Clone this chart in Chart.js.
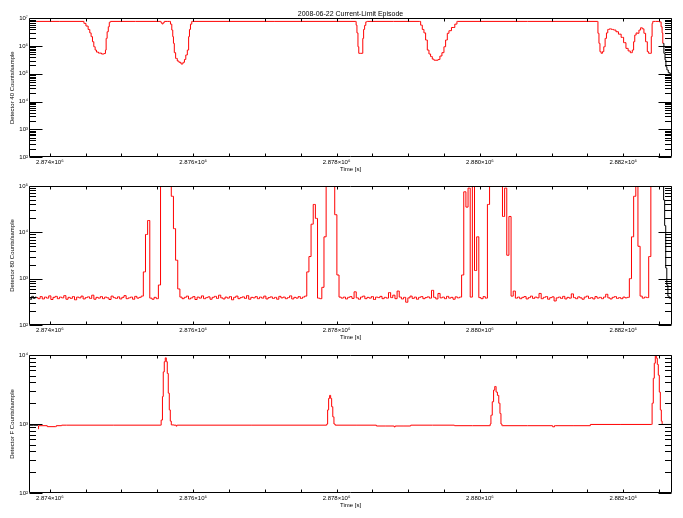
<!DOCTYPE html>
<html>
<head>
<meta charset="utf-8">
<title>2008-06-22 Current-Limit Episode</title>
<script src="https://cdn.jsdelivr.net/npm/chart.js@4.4.1/dist/chart.umd.min.js"></script>
<style>
  body { margin: 0; background: #fff; }
  #wrap { position: relative; width: 683px; height: 518px; }
  #wrap canvas { position: absolute; left: 0; }
</style>
</head>
<body>
<div id="wrap">
  <canvas id="det40" width="683" height="175" style="top:0px"></canvas>
  <canvas id="det80" width="683" height="168" style="top:175px"></canvas>
  <canvas id="detF" width="683" height="168" style="top:343px"></canvas>
</div>
<script>
// time axis (s)
const timeMin = 2873710, timeMax = 2882680;
const timeTicks = [2874000, 2874500, 2875000, 2875500, 2876000, 2876500, 2877000, 2877500, 2878000,
                   2878500, 2879000, 2879500, 2880000, 2880500, 2881000, 2881500, 2882000, 2882500];
const minorSteps = [1, 2, 3, 4, 5, 6, 7, 8, 9];

// Detector 40
const det40Decades = [2, 3, 4, 5, 6, 7];
const det40Time = [
  2873815, 2874465,
  2874488, 2874521, 2874549, 2874567, 2874586, 2874605, 2874623, 2874642, 2874660, 2874698, 2874744, 2874772, 2874781, 2874791, 2874809, 2874823, 2874837, 2874851,
  2875545, 2875558, 2875572, 2875590, 2875604,
  2875674, 2875693, 2875711, 2875720, 2875730, 2875744, 2875767, 2875790, 2875814, 2875846, 2875869, 2875888, 2875907, 2875930, 2875944, 2875953, 2875972, 2875990,
  2878269, 2878278, 2878292, 2878306, 2878315, 2878362, 2878371, 2878385, 2878399, 2878418, 2878432,
  2879162, 2879185, 2879208, 2879231, 2879255, 2879278, 2879301, 2879324, 2879348, 2879371, 2879403, 2879431, 2879454, 2879487, 2879510, 2879534, 2879557, 2879580, 2879627, 2879673, 2879687,
  2881640, 2881654, 2881668, 2881682, 2881700, 2881719, 2881738, 2881756, 2881775, 2881793, 2881821, 2881849, 2881882, 2881914, 2881952, 2881989, 2882021, 2882054, 2882082, 2882114, 2882138,
  2882151, 2882170, 2882189, 2882207, 2882231, 2882254, 2882277, 2882300, 2882324, 2882347, 2882361, 2882384, 2882398, 2882407, 2882417, 2882486, 2882519, 2882537, 2882547, 2882556
];
const det40Counts = [
  7.8e6, 7.8e6,
  6.6e6, 5.3e6, 4.0e6, 3.0e6, 2.2e6, 1.44e6, 9.5e5, 7.2e5, 6.1e5, 5.6e5, 5.2e5, 5.4e5, 7.2e5, 1.9e6, 3.3e6, 5.0e6, 7.2e6, 7.8e6,
  7.8e6, 7.0e6, 6.3e6, 7.0e6, 7.8e6,
  7.8e6, 6.2e6, 3.8e6, 2.2e6, 1.26e6, 5.8e5, 3.6e5, 2.9e5, 2.6e5, 2.27e5, 2.6e5, 3.3e5, 4.8e5, 7.2e5, 2.2e6, 4.0e6, 6.2e6, 7.8e6,
  7.8e6, 5.7e6, 3.0e6, 9.5e5, 5.5e5, 5.5e5, 1.9e6, 4.0e6, 5.6e6, 7.5e6, 7.8e6,
  7.8e6, 5.7e6, 4.0e6, 3.0e6, 1.66e6, 7.2e5, 5.2e5, 4.2e5, 3.4e5, 3.1e5, 3.1e5, 3.3e5, 4.4e5, 5.8e5, 9.5e5, 1.66e6, 2.9e6, 3.6e6, 4.7e6, 6.2e6, 7.8e6,
  7.8e6, 2.9e6, 1.26e6, 6.3e5, 5.5e5, 6.3e5, 9.5e5, 1.9e6, 3.0e6, 4.0e6, 4.2e6, 4.0e6, 3.8e6, 3.3e6, 2.7e6, 2.07e6, 1.33e6, 8.3e5, 6.7e5, 5.8e5, 7.2e5,
  1.44e6, 2.5e6, 3.0e6, 2.9e6, 3.8e6, 4.6e6, 4.2e6, 2.9e6, 1.44e6, 6.3e5, 5.5e5, 5.5e5, 2.2e6, 6.6e6, 7.8e6, 7.8e6, 7.5e6, 5.0e6, 3.0e6, 1.26e6
];
const det40LeadTime = [2873710, 2873815];
const det40LeadCounts = [7.8e6, 7.8e6];
const det40TailTime = [2882556, 2882578, 2882588, 2882602, 2882616, 2882640, 2882663, 2882680];
const det40TailCounts = [1.26e6, 5.5e5, 3.2e5, 1.8e5, 1.38e5, 1.1e5, 1.0e5, 1.0e5];

// Detector 80, one sample every 30 s
const det80Decades = [2, 3, 4, 5];
const det80Start = 2873820, det80Step = 30;
const det80Counts = [
  390, 370, 410, 365, 400, 380, 425, 355, 395, 415,
  370, 400, 385, 430, 360, 395, 375, 410, 350, 400,
  385, 420, 365, 390, 405, 375, 440, 360, 395, 380,
  410, 370, 400, 385, 355, 420, 390, 375, 405, 365,
  395, 430, 370, 385, 400, 360, 415, 380, 395,
  420, 1400, 9000, 18000, 380, 360, 395, 370, 730, 2e5, 2e5, 2e5, 2e5, 2e5, 60000, 12000, 2500, 600,
  400, 370, 395, 420, 365, 385, 410, 355, 400, 380,
  425, 370, 390, 405, 360, 395, 415, 375, 440, 385,
  365, 400, 380, 410, 350, 395, 420, 370, 390, 405,
  375, 430, 360, 395, 385, 410, 370, 400, 380, 420,
  365, 390, 405, 375, 395, 360, 415, 385, 400, 370,
  390, 425, 365, 395, 380, 410, 375, 400,
  420, 1400, 3000, 15000, 40000, 20000, 380, 370, 650, 8000, 2e5, 2e5, 2e5, 2e5, 24000, 1200, 400,
  380, 400, 365, 395, 410, 375, 520, 385, 360, 400,
  420, 370, 395, 380, 410, 355, 400, 390, 415, 370,
  395, 380, 500, 390, 440, 370, 540, 400, 365, 395,
  310, 385, 420, 375, 400, 360, 395, 410, 370, 390,
  405, 380, 560, 395, 365, 480, 385, 400, 370, 415,
  380, 395, 360, 405, 385, 400,
  1200, 75000, 35000, 90000, 400, 2e5, 1500, 8000, 390, 370, 410, 380,
  40000, 2e5, 2e5, 2e5, 2e5, 2e5, 2e5, 22000, 90000, 3200, 22000, 420,
  540, 380, 400, 370, 395, 410, 365, 390, 420, 375,
  400, 385, 480, 370, 395, 410, 360, 390, 405, 330,
  385, 400, 375, 415, 365, 395, 380, 470, 390, 370,
  405, 385, 360, 400, 420, 375, 390, 365, 410, 380,
  395, 370, 400, 460, 385, 365, 395, 410, 375, 390,
  370, 400, 385, 395,
  1000, 8000, 60000, 2e5, 5000, 420, 380, 400, 390, 3000, 2e5
];
const det80Time = det80Counts.map((c, i) => det80Start + i * det80Step);
const det80LeadTime = [2873710, 2873735, 2873760, 2873785, 2873805, 2873820];
const det80LeadCounts = [390, 360, 415, 375, 400, 390];
const det80TailTime = [2882400, 2882556, 2882570, 2882585, 2882600, 2882615, 2882630, 2882650, 2882680];
const det80TailCounts = [2e5, 2e5, 50000, 14000, 1700, 730, 420, 380, 400];

// Detector F
const detFDecades = [2, 3, 4];
const detFTime = [
  2873837, 2873850, 2874080, 2874100, 2874230, 2875540,
  2875567, 2875576, 2875590, 2875604, 2875618, 2875632, 2875646, 2875660, 2875674, 2875688, 2875702,
  2875760, 2875767, 2875780, 2877860,
  2877869, 2877883, 2877897, 2877911, 2877925, 2877939, 2877957, 2877971, 2877990,
  2878555, 2878557, 2878800, 2878810, 2878825, 2879031, 2879040, 2879640, 2879650, 2880140,
  2880147, 2880161, 2880184, 2880198, 2880217, 2880235, 2880254, 2880273, 2880287, 2880301, 2880315,
  2881010, 2881021, 2881060, 2881540, 2881542, 2882393,
  2882412, 2882426, 2882440, 2882454, 2882468, 2882482, 2882496, 2882510, 2882524, 2882538, 2882547
];
const detFCounts = [
  850, 945, 915, 945, 962, 962,
  1140, 2500, 5700, 8000, 9100, 8000, 5400, 2800, 1600, 1100, 970,
  962, 930, 962, 962,
  1000, 1600, 2350, 2600, 2350, 1780, 1270, 1000, 962,
  962, 935, 935, 905, 935, 935, 962, 962, 945, 945,
  1000, 1340, 2100, 3100, 3500, 2900, 2600, 2000, 1420, 1000, 945,
  945, 910, 945, 945, 985, 985,
  2000, 4600, 7600, 10000, 9000, 7300, 5100, 2900, 1600, 1100, 985
];
const detFLeadTime = [2873710, 2873837];
const detFLeadCounts = [960, 960];
const detFTailTime = [2882547, 2882680];
const detFTailCounts = [985, 985];

Chart.defaults.font.family = "'Liberation Sans', Arial, sans-serif";
Chart.defaults.color = '#000';

const SUP = '⁰¹²³⁴⁵⁶⁷⁸⁹';
function isDecade(v) {
  const e = Math.round(Math.log10(v));
  return Math.abs(Math.pow(10, e) - v) < 1e-6 * v;
}
function pairs(t, c) {
  return t.map((x, i) => ({ x: x, y: c[i] }));
}

// IDL style box with inward ticks on all four sides
const idlFrame = {
  id: 'idlFrame',
  afterDatasetsDraw(chart) {
    const { ctx, chartArea: a, scales: { x, y } } = chart;
    const L = Math.round(a.left) + 0.5, R = Math.round(a.right) - 0.5;
    const T = Math.round(a.top) + 0.5, B = Math.round(a.bottom) - 0.5;
    ctx.save();
    ctx.strokeStyle = '#000';
    ctx.lineWidth = 1;
    ctx.beginPath();
    ctx.rect(L, T, R - L, B - T);
    y.ticks.forEach(t => {
      const py = Math.round(y.getPixelForValue(t.value)) + 0.5;
      const len = isDecade(t.value) ? 13 : 6.5;
      ctx.moveTo(L, py); ctx.lineTo(L + len, py);
      ctx.moveTo(R, py); ctx.lineTo(R - len, py);
    });
    x.ticks.forEach(t => {
      const px = Math.round(x.getPixelForValue(t.value)) + 0.5;
      ctx.moveTo(px, B); ctx.lineTo(px, B - 3);
      ctx.moveTo(px, T); ctx.lineTo(px, T + 3);
    });
    ctx.stroke();
    ctx.restore();
  }
};

function makePanel(id, p) {
  const line = (color) => ({
    borderColor: color, borderWidth: 1, pointRadius: 0, stepped: 'middle', fill: false
  });
  return new Chart(document.getElementById(id), {
    type: 'line',
    data: {
      datasets: [
        Object.assign({ data: pairs(p.time, p.counts) }, line('#ff0000')),
        Object.assign({ data: pairs(p.leadTime, p.leadCounts) }, line('#000000')),
        Object.assign({ data: pairs(p.tailTime, p.tailCounts) }, line('#000000'))
      ]
    },
    options: {
      responsive: false,
      animation: false,
      devicePixelRatio: 1,
      events: [],
      layout: { padding: { left: 0, right: 11, top: p.padTop, bottom: 0 } },
      plugins: {
        legend: { display: false },
        tooltip: { enabled: false },
        title: p.title ? {
          display: true, text: p.title, fullSize: false, color: '#000',
          font: { size: 7, weight: 'normal' }, padding: { top: 10, bottom: 0 }
        } : { display: false }
      },
      scales: {
        x: {
          type: 'linear', min: timeMin, max: timeMax,
          afterBuildTicks: s => { s.ticks = timeTicks.map(v => ({ value: v })); },
          afterFit: s => { s.height = 18; },
          grid: { display: false, drawTicks: false },
          border: { display: false },
          ticks: {
            autoSkip: false, maxRotation: 0, padding: 2, font: { size: 6 },
            callback: v => v % 2000 === 0 ? (v / 1e6).toFixed(3) + '×10⁶' : ''
          },
          title: { display: true, text: 'Time [s]', font: { size: 6 }, padding: { top: 0, bottom: 2 } }
        },
        y: {
          type: 'logarithmic',
          min: Math.pow(10, p.decades[0]), max: Math.pow(10, p.decades[p.decades.length - 1]),
          afterBuildTicks: s => {
            const ticks = [];
            p.decades.forEach((e, k) => {
              if (k === p.decades.length - 1) { ticks.push({ value: Math.pow(10, e) }); return; }
              minorSteps.forEach(m => ticks.push({ value: m * Math.pow(10, e) }));
            });
            s.ticks = ticks;
          },
          afterFit: s => { s.width = 29; },
          grid: { display: false, drawTicks: false },
          border: { display: false },
          ticks: {
            autoSkip: false, padding: 1, font: { size: 6 },
            callback: v => isDecade(v) ? '10' + SUP[Math.round(Math.log10(v))] : ''
          },
          title: { display: true, text: p.yTitle, font: { size: 6 }, padding: { top: 9, bottom: 0 } }
        }
      }
    },
    plugins: [idlFrame]
  });
}

makePanel('det40', {
  title: '2008-06-22 Current-Limit Episode', padTop: 0, decades: det40Decades,
  yTitle: 'Detector 40 Counts/sample',
  time: det40Time, counts: det40Counts,
  leadTime: det40LeadTime, leadCounts: det40LeadCounts,
  tailTime: det40TailTime, tailCounts: det40TailCounts
});
makePanel('det80', {
  padTop: 11, decades: det80Decades,
  yTitle: 'Detector 80 Counts/sample',
  time: det80Time, counts: det80Counts,
  leadTime: det80LeadTime, leadCounts: det80LeadCounts,
  tailTime: det80TailTime, tailCounts: det80TailCounts
});
makePanel('detF', {
  padTop: 12, decades: detFDecades,
  yTitle: 'Detector F Counts/sample',
  time: detFTime, counts: detFCounts,
  leadTime: detFLeadTime, leadCounts: detFLeadCounts,
  tailTime: detFTailTime, tailCounts: detFTailCounts
});
</script>
</body>
</html>
